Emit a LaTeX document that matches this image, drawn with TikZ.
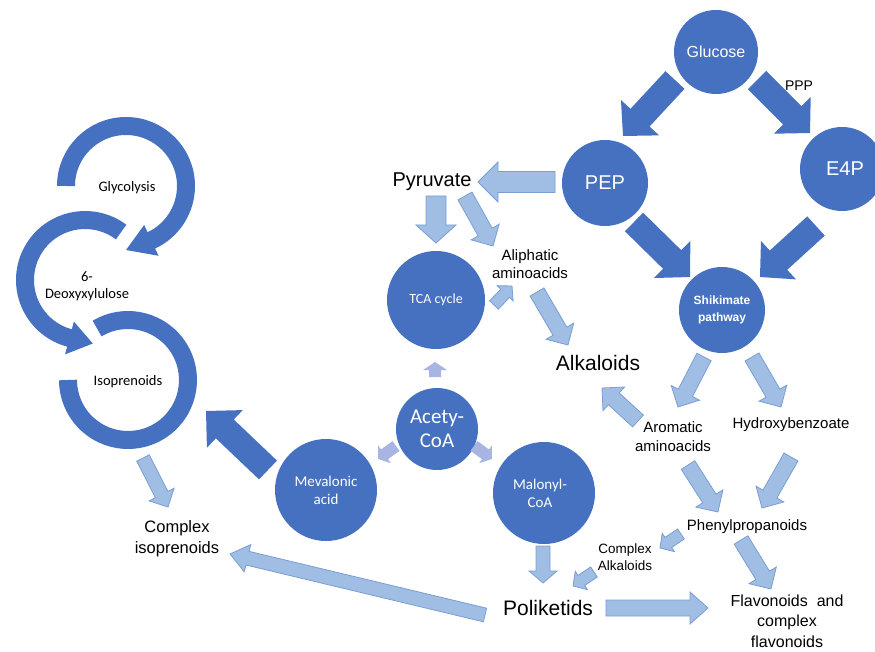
\documentclass[tikz,border=0pt]{standalone}
\usepackage{fontspec}
\setmainfont{Liberation Sans}
\newfontfamily\calfont{Carlito}
\usetikzlibrary{calc}
\definecolor{dkb}{RGB}{70,113,192}
\definecolor{ltb}{RGB}{160,189,228}
\definecolor{ltbd}{RGB}{122,158,212}
\definecolor{lav}{RGB}{168,180,225}
% block arrow: style, from, to, half shaft, half head, head length
\newcommand\blk[6]{%
  \coordinate (bkh) at ($(#3)!#6!(#2)$);
  \path[#1] ($(#2)!#4!90:(#3)$) -- ($(bkh)!#4!90:(#3)$) -- ($(bkh)!#5!90:(#3)$) -- (#3)
    -- ($(bkh)!#5!-90:(#3)$) -- ($(bkh)!#4!-90:(#3)$) -- ($(#2)!#4!-90:(#3)$) -- cycle;}
\begin{document}
\begin{tikzpicture}[x=1pt,y=-1pt,
  bub/.style={circle, fill=dkb, text=white, minimum size=#1, inner sep=0pt, align=center},
  lab/.style={align=center, inner sep=0pt, text=black},
  dark/.style={fill=dkb},
  light/.style={fill=ltb, draw=ltbd, line width=0.8pt},
  lavs/.style={fill=lav},
  ringc/.style={draw=dkb, line width=18pt}]
\useasboundingbox (0,0) rectangle (875,652);
\clip (0,0) rectangle (875,652);

% ---- circles ----
\node[bub=84pt, font=\fontsize{16}{18}\selectfont] (glucose) at (716,52) {Glucose};
\node[bub=86pt, font=\fontsize{20}{22}\selectfont] (pep) at (605,183) {PEP};
\node[bub=84pt, font=\fontsize{20}{22}\selectfont] (e4p) at (842,169) {\hspace*{6pt}E4P};
\node[bub=86pt, font=\bfseries\fontsize{12}{17}\selectfont] (shik) at (722,310) {Shikimate\\pathway};
\node[bub=98pt, font=\calfont\fontsize{14}{16}\selectfont] (tca) at (436,300) {TCA cycle};
\node[bub=82pt, font=\calfont\fontsize{21}{24}\selectfont] (acety) at (437,429) {Acety-\\CoA};
\node[bub=102pt, font=\calfont\fontsize{15}{18}\selectfont] (meval) at (326,490) {Mevalonic\\acid};
\node[bub=102pt, font=\calfont\fontsize{15}{18}\selectfont] (malonyl) at (544,493) {\hspace*{-8pt}Malonyl-\\\hspace*{-8pt}CoA};

% ---- text labels ----
\node[lab, font=\fontsize{14}{16}\selectfont] (ppp) at (799,86) {PPP};
\node[lab, font=\fontsize{20}{22}\selectfont] (pyruvate) at (432,182) {Pyruvate};
\node[lab, font=\fontsize{15}{18}\selectfont] (aliph) at (530,264) {Aliphatic\\aminoacids};
\node[lab, font=\fontsize{21}{23}\selectfont] (alk) at (598,363) {Alkaloids};
\node[lab, font=\fontsize{15}{19}\selectfont] (arom) at (673,437) {Aromatic\\aminoacids};
\node[lab, font=\fontsize{15}{18}\selectfont] (hydroxy) at (791,425) {Hydroxybenzoate};
\node[lab, font=\fontsize{15}{18}\selectfont] (phenyl) at (747,527) {Phenylpropanoids};
\node[lab, font=\fontsize{13.5}{17}\selectfont] (calk) at (625,557) {Complex\\Alkaloids};
\node[lab, font=\fontsize{21}{23}\selectfont] (poli) at (548,608) {Poliketids};
\node[lab, font=\fontsize{16}{20.5}\selectfont] (flav) at (787,621) {Flavonoids~ and\\complex\\flavonoids};
\node[lab, font=\fontsize{16.5}{21}\selectfont] (ciso) at (177,539) {Complex\\isoprenoids};
\node[lab, font=\calfont\fontsize{14.5}{17}\selectfont] (glyc) at (127,188) {Glycolysis};
\node[lab, font=\calfont\fontsize{14.5}{17}\selectfont] (deoxy) at (87,286) {6-\\Deoxyxylulose};
\node[lab, font=\calfont\fontsize{14.5}{17}\selectfont] (isop) at (128,382) {Isoprenoids};

% ---- ring arrows ----
\coordinate (r1) at (126,186);
\coordinate (r2) at (85,280);
\coordinate (r3) at (128,380);
\draw[ringc] ($(r1)+(180:60)$) arc[start angle=180, end angle=426, radius=60];
\fill[dkb] ($(r1)+(425:43)$) -- ($(r1)+(425:77)$) -- ($(r1)+(450:64)$) -- cycle;
\draw[ringc] ($(r2)+(-53:60)$) arc[start angle=-53, end angle=-256, radius=60];
\fill[dkb] ($(r2)+(-255:43)$) -- ($(r2)+(-255:77)$) -- ($(r2)+(-277:64)$) -- cycle;
\draw[ringc] ($(r3)+(-121:60)$) arc[start angle=-121, end angle=180, radius=60];

% ---- dark arrows ----
\coordinate (gluA) at (675,80);  \coordinate (pepA) at (623,136);
\coordinate (gluB) at (757,80);  \coordinate (e4pB) at (810,133);
\coordinate (pepC) at (634,222); \coordinate (shikC) at (690,277);
\coordinate (e4pD) at (816,226); \coordinate (shikD) at (760,277);
\coordinate (mevE) at (268,470); \coordinate (isoE) at (206,411);
\blk{dark}{gluA}{pepA}{13pt}{26pt}{25pt}
\blk{dark}{gluB}{e4pB}{13pt}{26pt}{25pt}
\blk{dark}{pepC}{shikC}{13pt}{26pt}{25pt}
\blk{dark}{e4pD}{shikD}{13pt}{26pt}{25pt}
\blk{dark}{mevE}{isoE}{13pt}{26pt}{26pt}

% ---- light arrows ----
\coordinate (l1s) at (555,182); \coordinate (l1e) at (478,182);
\coordinate (l2s) at (436,196); \coordinate (l2e) at (436,243);
\coordinate (l3s) at (465,196); \coordinate (l3e) at (493,246);
\coordinate (l4s) at (494,305); \coordinate (l4e) at (512,286);
\coordinate (l5s) at (537,292); \coordinate (l5e) at (568,345);
\coordinate (l9s) at (704,357); \coordinate (l9e) at (678,407);
\coordinate (l10s) at (752,357); \coordinate (l10e) at (781,407);
\coordinate (l11s) at (638,421); \coordinate (l11e) at (602,388);
\coordinate (l12s) at (688,465); \coordinate (l12e) at (718,512);
\coordinate (l13s) at (791,457); \coordinate (l13e) at (762,508);
\coordinate (l14s) at (681,534); \coordinate (l14e) at (660,548);
\coordinate (l15s) at (741,540); \coordinate (l15e) at (771,589);
\coordinate (l16s) at (594,572); \coordinate (l16e) at (573,586);
\coordinate (l17s) at (606,608); \coordinate (l17e) at (708,608);
\coordinate (l18s) at (543,546); \coordinate (l18e) at (543,583);
\coordinate (l19s) at (485,615); \coordinate (l19e) at (230,554);
\coordinate (l20s) at (143,458); \coordinate (l20e) at (168,507);
\blk{light}{l1s}{l1e}{10.5pt}{20pt}{20pt}
\blk{light}{l2s}{l2e}{10pt}{20pt}{18pt}
\blk{light}{l3s}{l3e}{8pt}{16pt}{16pt}
\blk{light}{l4s}{l4e}{6pt}{11pt}{10pt}
\blk{light}{l5s}{l5e}{8pt}{16pt}{16pt}
\blk{light}{l9s}{l9e}{8pt}{16pt}{16pt}
\blk{light}{l10s}{l10e}{8pt}{16pt}{16pt}
\blk{light}{l11s}{l11e}{8pt}{16pt}{16pt}
\blk{light}{l12s}{l12e}{8pt}{16pt}{16pt}
\blk{light}{l13s}{l13e}{8pt}{16pt}{16pt}
\blk{light}{l14s}{l14e}{6pt}{11pt}{10pt}
\blk{light}{l15s}{l15e}{8pt}{16pt}{16pt}
\blk{light}{l16s}{l16e}{6pt}{11pt}{10pt}
\blk{light}{l17s}{l17e}{8pt}{16pt}{18pt}
\blk{light}{l18s}{l18e}{7pt}{14pt}{12pt}
\blk{light}{l19s}{l19e}{7pt}{14pt}{18pt}
\blk{light}{l20s}{l20e}{7pt}{14pt}{14pt}

% ---- small lavender arrows from Acety-CoA ----
\coordinate (l6s) at (435,377); \coordinate (l6e) at (435,362);
\coordinate (l7s) at (396,446); \coordinate (l7e) at (378,459);
\coordinate (l8s) at (474,446); \coordinate (l8e) at (492,459);
\blk{lavs}{l6s}{l6e}{6pt}{12pt}{8pt}
\blk{lavs}{l7s}{l7e}{6pt}{11pt}{8pt}
\blk{lavs}{l8s}{l8e}{6pt}{11pt}{8pt}
\end{tikzpicture}
\end{document}
